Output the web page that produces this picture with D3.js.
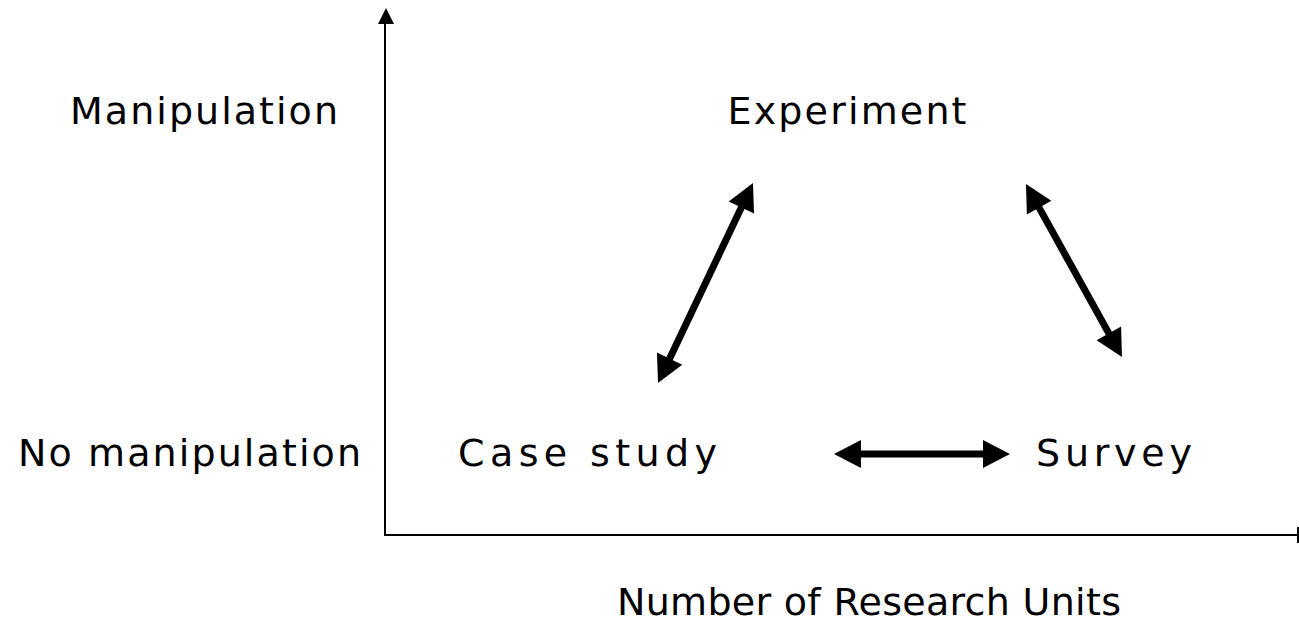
<!DOCTYPE html>
<html>
<head>
<meta charset="utf-8">
<script src="https://cdn.jsdelivr.net/npm/d3@7"></script>
<style>
  html, body { margin: 0; padding: 0; background: #fff; }
  svg { display: block; }
  text { font-family: "DejaVu Sans", Verdana, sans-serif; fill: #000; }
</style>
</head>
<body>
<div id="chart"></div>
<script>
// rows of the vertical axis (manipulation) and their level on a 0-100 scale
var rowLabels = ["Manipulation", "No manipulation"];
var rowLevels = [78.0, 13.1];

// research methods, placed by number of research units (0-100) and row
var methods   = ["Experiment", "Case study", "Survey"];
var methodX   = [50.55, 22.16, 79.76];
var methodRow = ["Manipulation", "No manipulation", "No manipulation"];

// double arrows between methods: [x1, y1, x2, y2] in the same 0-100 units
var links    = [["Case study", "Experiment"], ["Experiment", "Survey"], ["Case study", "Survey"]];
var linkEnds = [[29.87, 28.84, 40.26, 66.79],
                [70.13, 66.60, 80.63, 33.78],
                [49.12, 15.37, 68.38, 15.37]];

var xTitle = "Number of Research Units";
var xTitlePos = 52.95;

var width = 1299, height = 630;
// note: "top" is taken by window.top, so margins get their own names
var mLeft = 385, mBottom = 535, mTop = 8;
var fontSize = 38;

var svg = d3.select("#chart").append("svg").attr("width", width).attr("height", height);

var x = d3.scaleLinear().domain([0, 100]).range([mLeft, width]);
var y = d3.scaleLinear().domain([0, 100]).range([mBottom, mTop]);
var rowY = d3.scaleOrdinal().domain(rowLabels).range(rowLevels.map(function(v) { return y(v); }));

// axes: plain lines, arrow on top of the vertical one, end tick on the horizontal
var axes = svg.append("g").attr("stroke", "#000").attr("stroke-width", 2).attr("fill", "none");
axes.append("line")
    .attr("x1", x(0)).attr("y1", y(0))
    .attr("x2", x(0)).attr("y2", y(100) + 14);
axes.append("line")
    .attr("x1", x(0) - 1).attr("y1", y(0))
    .attr("x2", x(100)).attr("y2", y(0));
axes.append("line")
    .attr("x1", x(100) - 1).attr("y1", y(0) - 8)
    .attr("x2", x(100) - 1).attr("y2", y(0) + 8);
svg.append("path")
    .attr("d", "M" + (x(0) + 1) + "," + y(100) + "L" + (x(0) + 9) + "," + (y(100) + 16) + "L" + (x(0) - 7) + "," + (y(100) + 16) + "Z")
    .attr("fill", "#000");

// row labels left of the axis
var rowStart = [70, 18];
var rowWidth = [268, 343];
svg.selectAll(".row-label").data(rowLabels).enter()
    .append("text")
    .attr("class", "row-label")
    .attr("x", function(d, i) { return rowStart[i]; })
    .attr("y", function(d) { return rowY(d); })
    .attr("font-size", fontSize)
    .attr("textLength", function(d, i) { return rowWidth[i]; })
    .attr("lengthAdjust", "spacing")
    .text(function(d) { return d; });

// method labels
var methodWidth = [239, 259, 156];
svg.selectAll(".method").data(methods).enter()
    .append("text")
    .attr("class", "method")
    .attr("x", function(d, i) { return x(methodX[i]); })
    .attr("y", function(d, i) { return rowY(methodRow[i]); })
    .attr("text-anchor", "middle")
    .attr("font-size", fontSize)
    .attr("textLength", function(d, i) { return methodWidth[i]; })
    .attr("lengthAdjust", "spacing")
    .text(function(d) { return d; });

// double headed arrows
var headLen = 27, headHalf = 14;
var arrows = svg.selectAll(".link").data(links).enter()
    .append("g").attr("class", "link");

arrows.each(function(d, i) {
    var e = linkEnds[i];
    var x1 = x(e[0]), y1 = y(e[1]), x2 = x(e[2]), y2 = y(e[3]);
    var len = Math.sqrt((x2 - x1) * (x2 - x1) + (y2 - y1) * (y2 - y1));
    var ux = (x2 - x1) / len, uy = (y2 - y1) / len;
    var nx = -uy, ny = ux;
    var g = d3.select(this);
    g.append("line")
        .attr("x1", x1 + ux * (headLen - 4)).attr("y1", y1 + uy * (headLen - 4))
        .attr("x2", x2 - ux * (headLen - 4)).attr("y2", y2 - uy * (headLen - 4))
        .attr("stroke", "#000").attr("stroke-width", 7);
    [[x1, y1, ux, uy], [x2, y2, -ux, -uy]].forEach(function(t) {
        var bx = t[0] + t[2] * headLen, by = t[1] + t[3] * headLen;
        g.append("path")
            .attr("d", "M" + t[0] + "," + t[1] +
                       "L" + (bx + nx * headHalf) + "," + (by + ny * headHalf) +
                       "L" + (bx - nx * headHalf) + "," + (by - ny * headHalf) + "Z")
            .attr("fill", "#000");
    });
});

// horizontal axis title
svg.append("text")
    .attr("x", x(xTitlePos))
    .attr("y", y(0) + 80)
    .attr("text-anchor", "middle")
    .attr("font-size", fontSize)
    .attr("textLength", 504)
    .attr("lengthAdjust", "spacing")
    .text(xTitle);
</script>
</body>
</html>
